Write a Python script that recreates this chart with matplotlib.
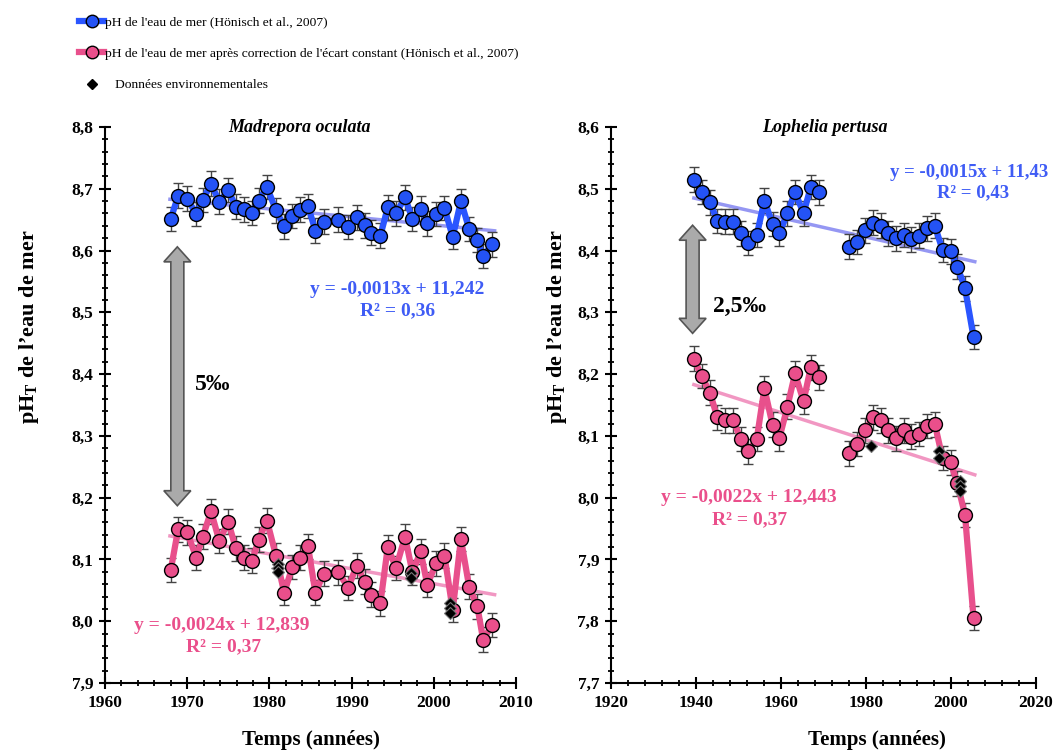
import numpy as np
import matplotlib
matplotlib.use("Agg")
import matplotlib.pyplot as plt
from matplotlib.lines import Line2D
from matplotlib.patches import Polygon
from matplotlib.ticker import MultipleLocator, FuncFormatter

plt.rcParams['font.family'] = ['Liberation Serif', 'DejaVu Serif']
plt.rcParams['mathtext.fontset'] = 'custom'
plt.rcParams['mathtext.rm'] = 'Liberation Serif'
plt.rcParams['mathtext.bf'] = 'Liberation Serif:bold'

# ---------------- data: Madrepora oculata (left) ----------------
mo_years = [1968.0, 1968.9, 1970.0, 1971.1, 1971.9, 1972.9, 1973.9, 1975.0, 1975.9, 1976.9,
            1977.9, 1978.7, 1979.7, 1980.8, 1981.8, 1982.8, 1983.7, 1984.7, 1985.6, 1986.6,
            1988.4, 1989.6, 1990.6, 1991.6, 1992.4, 1993.5, 1994.4, 1995.4, 1996.5, 1997.4,
            1998.4, 1999.2, 2000.3, 2001.3, 2002.3, 2003.3, 2004.3, 2005.3, 2006.0, 2007.1]
mo_ph = [8.651, 8.689, 8.684, 8.659, 8.682, 8.708, 8.679, 8.698, 8.671, 8.667,
         8.661, 8.681, 8.703, 8.665, 8.639, 8.656, 8.666, 8.672, 8.632, 8.647,
         8.650, 8.638, 8.654, 8.641, 8.629, 8.624, 8.670, 8.660, 8.686, 8.651,
         8.668, 8.644, 8.659, 8.669, 8.622, 8.680, 8.635, 8.617, 8.591, 8.610]
mo_ph_corr = [8.083, 8.149, 8.144, 8.103, 8.137, 8.178, 8.130, 8.161, 8.118, 8.103,
              8.098, 8.132, 8.163, 8.106, 8.046, 8.088, 8.103, 8.121, 8.046, 8.077,
              8.079, 8.054, 8.090, 8.064, 8.043, 8.029, 8.120, 8.086, 8.137, 8.079,
              8.113, 8.059, 8.094, 8.106, 8.018, 8.133, 8.056, 8.024, 7.970, 7.994]
mo_env_years = [1981.1, 1981.1, 1981.1, 1997.2, 1997.2, 2002.0, 2002.0, 2002.0]
mo_env_ph = [8.092, 8.086, 8.080, 8.078, 8.070, 8.030, 8.022, 8.013]
mo_trend_years = [1967.9, 2007.4]
mo_trend_ph = [8.683, 8.632]
mo_trend_corr = [8.138, 8.043]

# ---------------- data: Lophelia pertusa (right) ----------------
lp_years = [1939.5, 1941.3, 1943.3, 1945.0, 1946.8, 1948.8, 1950.5, 1952.3, 1954.3, 1956.1,
            1958.0, 1959.6, 1961.5, 1963.3, 1965.3, 1967.0, 1969.0,
            1976.1, 1977.8, 1979.8, 1981.6, 1983.5, 1985.2, 1987.1, 1988.9, 1990.5,
            1992.4, 1994.3, 1996.2, 1998.0, 1999.9, 2001.5, 2003.3, 2005.3]
lp_ph = [8.515, 8.495, 8.478, 8.448, 8.447, 8.447, 8.428, 8.412, 8.425, 8.481,
         8.443, 8.428, 8.460, 8.495, 8.460, 8.503, 8.494,
         8.406, 8.414, 8.433, 8.445, 8.440, 8.428, 8.420, 8.425, 8.418,
         8.424, 8.436, 8.440, 8.401, 8.399, 8.374, 8.339, 8.260]
lp_ph_corr = [8.225, 8.197, 8.170, 8.130, 8.125, 8.125, 8.095, 8.075, 8.095, 8.177,
              8.118, 8.096, 8.147, 8.201, 8.156, 8.211, 8.195,
              8.072, 8.087, 8.109, 8.130, 8.125, 8.109, 8.096, 8.109, 8.099,
              8.103, 8.116, 8.119, 8.064, 8.057, 8.023, 7.972, 7.805]
lp_env_years = [1981.1, 1997.2, 1997.2, 2002.0, 2002.0, 2002.0]
lp_env_ph = [8.083, 8.075, 8.064, 8.027, 8.019, 8.011]
lp_trend_years = [1939.5, 2005.6]
lp_trend_ph = [8.485, 8.382]
lp_trend_corr = [8.183, 8.037]

err = 0.02

labels = ["pH de l'eau de mer (Hönisch et al., 2007)",
          "pH de l'eau de mer après correction de l'écart constant (Hönisch et al., 2007)",
          "   Données environnementales"]

BLUE = '#2453f5'
BLUE_LINE = '#2a55ff'
BLUE_TREND = '#8a8cf2'
PINK = '#ea4f8b'
PINK_LINE = '#e8508c'
PINK_TREND = '#f08cbc'
EQ_BLUE = '#3f5cf5'
EQ_PINK = '#ea4f8b'

fig = plt.figure(figsize=(10.55, 7.5), dpi=100)
W, H = 1055, 750
axL = fig.add_axes([105 / W, 1 - 683 / H, 411 / W, 556 / H])
axR = fig.add_axes([611 / W, 1 - 683 / H, 425 / W, 556 / H])


def with_gaps(x, y, gap=4):
    x = np.asarray(x, float)
    y = np.asarray(y, float)
    xs, ys = [x[0]], [y[0]]
    for i in range(1, len(x)):
        if x[i] - x[i - 1] > gap:
            xs.append(np.nan)
            ys.append(np.nan)
        xs.append(x[i])
        ys.append(y[i])
    return np.array(xs), np.array(ys)


def draw_series(ax, x, y, color, lcolor):
    ax.errorbar(x, y, yerr=err, fmt='none', ecolor='#444444', elinewidth=1.0,
                capsize=3.5, capthick=1.0, zorder=2)
    gx, gy = with_gaps(x, y)
    ax.plot(gx, gy, '-', color=lcolor, lw=4.5, zorder=3, solid_capstyle='round')
    ax.plot(x, y, 'o', ms=10, mfc=color, mec='black', mew=1.0, zorder=4)


def double_arrow(ax, xc, ytop, ybot, shaft_px=13, head_px=27, headlen_px=15):
    fig.canvas.draw()
    (cx, ty) = ax.transData.transform((xc, ytop))
    (_, by) = ax.transData.transform((xc, ybot))
    s, h = shaft_px / 2, head_px / 2
    pts = [(cx, ty), (cx + h, ty - headlen_px), (cx + s, ty - headlen_px),
           (cx + s, by + headlen_px), (cx + h, by + headlen_px), (cx, by),
           (cx - h, by + headlen_px), (cx - s, by + headlen_px),
           (cx - s, ty - headlen_px), (cx - h, ty - headlen_px)]
    poly = Polygon(pts, closed=True, transform=None, facecolor='#aaaaaa',
                   edgecolor='#555555', lw=1.2, zorder=5)
    fig.patches.append(poly)
    poly.set_figure(fig)


comma = FuncFormatter(lambda v, p: f"{v:.1f}".replace('.', ','))

for ax in (axL, axR):
    ax.spines['top'].set_visible(False)
    ax.spines['right'].set_visible(False)
    ax.spines['left'].set_linewidth(1.5)
    ax.spines['bottom'].set_linewidth(1.5)
    ax.tick_params(which='major', direction='inout', length=9, width=1.5,
                   labelsize=12.5, pad=4)
    ax.tick_params(which='minor', direction='inout', length=5, width=1.3)
    ax.yaxis.set_major_locator(MultipleLocator(0.1))
    ax.yaxis.set_minor_locator(MultipleLocator(0.02))
    ax.yaxis.set_major_formatter(comma)
    for lab in ax.get_xticklabels() + ax.get_yticklabels():
        lab.set_fontweight('bold')
    ax.set_ylabel(r"pH$_\mathbf{T}$ de l’eau de mer", fontsize=16, fontweight='bold')
    ax.set_xlabel("Temps (années)", fontsize=15, fontweight='bold')

# left panel
axL.set_xlim(1960, 2010)
axL.set_ylim(7.9, 8.8)
axL.xaxis.set_major_locator(MultipleLocator(10))
axL.xaxis.set_minor_locator(MultipleLocator(2))
axL.plot(mo_trend_years, mo_trend_ph, color=BLUE_TREND, lw=2.5, alpha=0.9, zorder=1)
axL.plot(mo_trend_years, mo_trend_corr, color=PINK_TREND, lw=2.5, alpha=0.9, zorder=1)
draw_series(axL, mo_years, mo_ph, BLUE, BLUE_LINE)
draw_series(axL, mo_years, mo_ph_corr, PINK, PINK_LINE)
axL.plot(mo_env_years, mo_env_ph, 'D', ms=6, color='black', mec='#777777', mew=0.8, zorder=6)
axL.text(0.474, 1.0, "Madrepora oculata", transform=axL.transAxes, fontsize=13,
         fontweight='bold', style='italic', ha='center', va='center')
axL.yaxis.set_label_coords(-0.155, 0.64)
axL.xaxis.set_label_coords(0.5, -0.085)
axL.text(1995.6, 8.537, "y = -0,0013x + 11,242", color=EQ_BLUE, fontsize=14,
         fontweight='bold', ha='center', va='center')
axL.text(1995.6, 8.502, "R² = 0,36", color=EQ_BLUE, fontsize=14,
         fontweight='bold', ha='center', va='center')
axL.text(1974.2, 7.993, "y = -0,0024x + 12,839", color=EQ_PINK, fontsize=14,
         fontweight='bold', ha='center', va='center')
axL.text(1974.4, 7.958, "R² = 0,37", color=EQ_PINK, fontsize=14,
         fontweight='bold', ha='center', va='center')
axL.text(1971.0, 8.383, "5‰", fontsize=17, fontweight='bold', ha='left', va='center')

# right panel
axR.set_xlim(1920, 2020)
axR.set_ylim(7.7, 8.6)
axR.xaxis.set_major_locator(MultipleLocator(20))
axR.xaxis.set_minor_locator(MultipleLocator(4))
axR.plot(lp_trend_years, lp_trend_ph, color=BLUE_TREND, lw=2.5, alpha=0.9, zorder=1)
axR.plot(lp_trend_years, lp_trend_corr, color=PINK_TREND, lw=2.5, alpha=0.9, zorder=1)
draw_series(axR, lp_years, lp_ph, BLUE, BLUE_LINE)
draw_series(axR, lp_years, lp_ph_corr, PINK, PINK_LINE)
axR.plot(lp_env_years, lp_env_ph, 'D', ms=6, color='black', mec='#777777', mew=0.8, zorder=6)
axR.text(0.504, 1.0, "Lophelia pertusa", transform=axR.transAxes, fontsize=13,
         fontweight='bold', style='italic', ha='center', va='center')
axR.yaxis.set_label_coords(-0.099, 0.64)
axR.xaxis.set_label_coords(0.625, -0.085)
axR.text(2004.3, 8.527, "y = -0,0015x + 11,43", color=EQ_BLUE, fontsize=13.5,
         fontweight='bold', ha='center', va='center')
axR.text(2005.3, 8.493, "R² = 0,43", color=EQ_BLUE, fontsize=13.5,
         fontweight='bold', ha='center', va='center')
axR.text(1952.5, 8.001, "y = -0,0022x + 12,443", color=EQ_PINK, fontsize=14,
         fontweight='bold', ha='center', va='center')
axR.text(1952.7, 7.965, "R² = 0,37", color=EQ_PINK, fontsize=14,
         fontweight='bold', ha='center', va='center')
axR.text(1944.0, 8.309, "2,5‰", fontsize=17, fontweight='bold', ha='left', va='center')

double_arrow(axL, 1968.8, 8.606, 8.187)
double_arrow(axR, 1939.2, 8.441, 8.266)

handles = [
    Line2D([], [], color=BLUE_LINE, lw=4.5, marker='o', ms=9, mfc=BLUE, mec='black'),
    Line2D([], [], color=PINK_LINE, lw=4.5, marker='o', ms=9, mfc=PINK, mec='black'),
    Line2D([], [], color='black', lw=0, marker='D', ms=5),
]
fig.legend(handles, labels, loc='upper left', bbox_to_anchor=(74 / W, 1 - 11 / H),
           frameon=False, fontsize=9.7, handlelength=1.8, handletextpad=0.1,
           labelspacing=1.4, borderaxespad=0)

fig.savefig("out.png", dpi=100)
